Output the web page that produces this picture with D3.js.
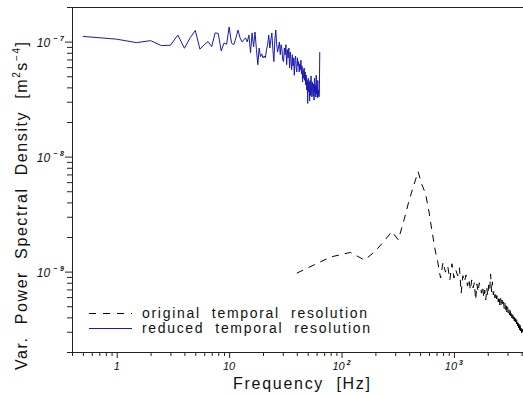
<!DOCTYPE html>
<html>
<head>
<meta charset="utf-8">
<script src="https://cdn.jsdelivr.net/npm/d3@7"></script>
<style>
html,body{margin:0;padding:0;background:#fff;}
svg{display:block;}
text{font-family:"Liberation Sans",Arial,sans-serif;fill:#111;}
</style>
</head>
<body>
<svg id="chart" width="523" height="396"></svg>
<script>
// ---- DATA ----
// reduced temporal resolution: frequency bins [Hz]
const freqReduced = [0.5,1,1.5,2,2.5,3,3.5,4,4.5,5,5.5,6,6.5,7,7.5,8,8.5,9,9.5,10,
10.5,11,11.5,12,12.5,13,13.5,14,14.5,15,15.5,16,16.5,17,17.5,18,18.5,19,19.5,20,
20.5,21,21.5,22,22.5,23,23.5,24,24.5,25,25.5,26,26.5,27,27.5,28,28.5,29,29.5,30,
30.5,31,31.5,32,32.5,33,33.5,34,34.5,35,35.5,36,36.5,37,37.5,38,38.5,39,39.5,40,
40.5,41,41.5,42,42.5,43,43.5,44,44.5,45,45.5,46,46.5,47,47.5,48,48.5,49,49.5,50,
50.5,51,51.5,52,52.5,53,53.5,54,54.5,55,55.5,56,56.5,57,57.5,58,58.5,59,59.5,60,
60.5,61,61.5,62,62.5,63,63.5,64];
// reduced temporal resolution: PSD [m^2 s^-4]
const psdReduced = [11.1e-8,10.5e-8,9.8e-8,10.2e-8,9.23e-8,9.3e-8,11.4e-8,8.76e-8,10.8e-8,12.5e-8,
8.6e-8,9.4e-8,10.0e-8,9.05e-8,11.9e-8,11.8e-8,8.3e-8,9.7e-8,9.5e-8,13.4e-8,
9.7e-8,9.4e-8,10.8e-8,12.6e-8,10.8e-8,9.94e-8,10.35e-8,10.8e-8,9.94e-8,11.4e-8,
8.0e-8,11.9e-8,9.0e-8,12.1e-8,8.5e-8,6.3e-8,8.8e-8,7.4e-8,7.82e-8,7.22e-8,
7.5e-8,7.22e-8,8.5e-8,9.4e-8,11.4e-8,8.8e-8,10.35e-8,11.9e-8,8.5e-8,6.7e-8,
10.35e-8,12.6e-8,9.4e-8,8.1e-8,9.0e-8,9.94e-8,7.7e-8,9.4e-8,8.5e-8,6.9e-8,
6.7e-8,8.8e-8,7.7e-8,9.4e-8,6.3e-8,8.5e-8,7.22e-8,8.8e-8,5.9e-8,8.1e-8,
6.9e-8,5.7e-8,7.7e-8,6.15e-8,7.22e-8,5.1e-8,6.9e-8,7.5e-8,5.9e-8,5.45e-8,
7.22e-8,6.15e-8,6.7e-8,5.45e-8,6.4e-8,5.7e-8,6.9e-8,5.24e-8,6.15e-8,4.46e-8,
5.7e-8,4.8e-8,5.9e-8,4.6e-8,5.45e-8,4.2e-8,5.1e-8,3.8e-8,4.6e-8,2.9e-8,
4.8e-8,3.65e-8,4.46e-8,3.05e-8,4.6e-8,3.4e-8,5.03e-8,3.96e-8,3.3e-8,4.46e-8,
3.8e-8,3.37e-8,4.29e-8,3.1e-8,4.8e-8,3.65e-8,4.2e-8,3.3e-8,5.1e-8,3.51e-8,
3.96e-8,3.24e-8,4.6e-8,3.37e-8,3.8e-8,3.3e-8,3.65e-8,8.1e-8];

// original temporal resolution: frequency bins [Hz]
const freqOriginal = [40,80,120,160,200,240,280,320,360,400,440,480,520,560,600,640,680,720,
760,800,840,880,920,960,1000,1040,1080,1120,1160,1200,1240,1280,1320,1360,1400,1440,1480,1520,
1560,1600,1640,1680,1720,1760,1800,1840,1880,1920,1960,2000,2040,2080,2120,2160,2200,2240,2280,
2320,2360,2400,2440,2480,2520,2560,2600,2640,2680,2720,2760,2800,2840,2880,2920,2960,3000,3040,
3080,3120,3160,3200,3240,3280,3320,3360,3400,3440,3480,3520,3560,3600,3640,3680,3720,3760,3800,
3840,3880,3920,3960,4000,4040,4080,4120];
// original temporal resolution: PSD [m^2 s^-4]
const psdOriginal = [0.97e-9,1.34e-9,1.47e-9,1.26e-9,1.51e-9,1.85e-9,2.23e-9,1.89e-9,2.82e-9,4.2e-9,
5.67e-9,7.4e-9,5.67e-9,4.74e-9,3.3e-9,2.21e-9,1.545e-9,1.19e-9,
0.88e-9,1.21e-9,0.99e-9,1.12e-9,0.847e-9,1.17e-9,0.88e-9,1.03e-9,0.92e-9,1.08e-9,0.65e-9,0.92e-9,
0.814e-9,0.936e-9,0.75e-9,0.864e-9,0.69e-9,0.847e-9,0.722e-9,0.80e-9,0.567e-9,0.782e-9,0.666e-9,
0.80e-9,0.722e-9,0.65e-9,0.75e-9,0.59e-9,0.69e-9,0.567e-9,0.722e-9,0.615e-9,0.766e-9,0.69e-9,
0.955e-9,0.666e-9,0.814e-9,0.627e-9,0.69e-9,0.59e-9,0.666e-9,0.579e-9,0.64e-9,0.545e-9,0.615e-9,
0.513e-9,0.59e-9,0.493e-9,0.567e-9,0.503e-9,0.545e-9,0.474e-9,0.534e-9,0.464e-9,0.513e-9,0.446e-9,
0.503e-9,0.437e-9,0.483e-9,0.42e-9,0.474e-9,0.412e-9,0.455e-9,0.396e-9,0.446e-9,0.388e-9,0.429e-9,
0.373e-9,0.42e-9,0.365e-9,0.404e-9,0.351e-9,0.396e-9,0.337e-9,0.38e-9,0.324e-9,0.365e-9,0.311e-9,
0.351e-9,0.305e-9,0.337e-9,0.293e-9,0.33e-9,0.299e-9,0.318e-9];

// tick labels
const xMajorTicks = [1,10,100,1000];
const xTickLabels = [["1",""],["10",""],["10","2"],["10","3"]];
const yMajorTicks = [1e-9,1e-8,1e-7];
const yTickLabels = [["10","\u2212\u2009\u20099"],["10","\u2212\u2009\u20098"],["10","\u2212\u2009\u20097"]];

const legendLabels = ["original  temporal  resolution","reduced  temporal  resolution"];
const xTitle = "Frequency  [Hz]";

// ---- DRAW ----
const svg = d3.select("#chart");
const L = 72, R = 524, T = 7, B = 352;
const x = d3.scaleLog().domain([0.4, 4200]).range([L, R]);
const y = d3.scaleLog().domain([2e-10, 2e-7]).range([B, T]);

const axisColor = "#222";

// minor tick values
function minors(dom){
  const out=[];
  for(let e=-11;e<=4;e++){
    for(let m=2;m<=9;m++){
      const v=m*Math.pow(10,e);
      if(v>=dom[0]*0.999 && v<=dom[1]*1.001) out.push(v);
    }
  }
  return out;
}

svg.append("defs").append("clipPath").attr("id","clip")
  .append("rect").attr("x",L).attr("y",T).attr("width",R-L).attr("height",B-T);

// x axis
const gx = svg.append("g").attr("transform",`translate(0,${B})`);
gx.append("g").call(d3.axisBottom(x).tickValues(minors(x.domain())).tickSize(4).tickFormat("").tickSizeOuter(0));
gx.append("g").call(d3.axisBottom(x).tickValues(xMajorTicks).tickSize(6).tickFormat("").tickSizeOuter(0));
gx.selectAll("path").attr("stroke",axisColor);
gx.selectAll("line").attr("stroke",axisColor);

// y axis
const gy = svg.append("g").attr("transform",`translate(${L},0)`);
gy.append("g").call(d3.axisLeft(y).tickValues(minors(y.domain())).tickSize(5).tickFormat("").tickSizeOuter(0));
gy.append("g").call(d3.axisLeft(y).tickValues(yMajorTicks).tickSize(7).tickFormat("").tickSizeOuter(0));
gy.selectAll("path").attr("stroke",axisColor);
gy.selectAll("line").attr("stroke",axisColor);

// top frame line
svg.append("line").attr("x1",L).attr("x2",R).attr("y1",T+0.5).attr("y2",T+0.5)
  .attr("stroke",axisColor).attr("stroke-width",1);

// x tick labels
xMajorTicks.forEach((v,i)=>{
  const t = svg.append("text").attr("x",x(v)).attr("y",370)
    .attr("text-anchor","middle").style("font-size","11px").style("font-style","italic");
  t.append("tspan").text(xTickLabels[i][0]);
  if(xTickLabels[i][1]){
    t.append("tspan").attr("dx",2).attr("dy",-5).style("font-size","7px").style("font-weight","bold").text(xTickLabels[i][1]);
  }
});

// y tick labels
yMajorTicks.forEach((v,i)=>{
  const t = svg.append("text").attr("x",64).attr("y",y(v)+5)
    .attr("text-anchor","end").style("font-size","12px").style("font-style","italic");
  t.append("tspan").text(yTickLabels[i][0]);
  t.append("tspan").attr("dx",3).attr("dy",-6).style("font-size","7px").style("font-weight","bold").text(yTickLabels[i][1]);
});

// lines
const lineGen = d3.line().x(d=>x(d[0])).y(d=>y(d[1]));
const plot = svg.append("g").attr("clip-path","url(#clip)");
plot.append("path")
  .datum(freqOriginal.map((f,i)=>[f,psdOriginal[i]]))
  .attr("d",lineGen).attr("fill","none").attr("stroke","#000")
  .attr("stroke-width",1).attr("stroke-dasharray","7,6");
plot.append("path")
  .datum(freqReduced.map((f,i)=>[f,psdReduced[i]]))
  .attr("d",lineGen).attr("fill","none").attr("stroke","#1a1ab0")
  .attr("stroke-width",1);

// legend
const leg = svg.append("g");
leg.append("line").attr("x1",89).attr("x2",132).attr("y1",313.5).attr("y2",313.5)
  .attr("stroke","#000").attr("stroke-dasharray","7,7");
leg.append("line").attr("x1",89).attr("x2",132).attr("y1",328.5).attr("y2",328.5)
  .attr("stroke","#1a1ab0");
leg.append("text").attr("x",142).attr("y",318).style("font-size","14px")
  .attr("textLength",225).attr("lengthAdjust","spacing").style("white-space","pre").text(legendLabels[0]);
leg.append("text").attr("x",142).attr("y",333).style("font-size","14px")
  .attr("textLength",228).attr("lengthAdjust","spacing").style("white-space","pre").text(legendLabels[1]);

// x title
svg.append("text").attr("x",233).attr("y",389).style("font-size","16px")
  .attr("textLength",137).attr("lengthAdjust","spacing").style("white-space","pre").text(xTitle);

// y title
const yt = svg.append("text").attr("transform","translate(27,370) rotate(-90)")
  .attr("x",0).attr("y",0).style("font-size","16px").style("white-space","pre")
  .attr("textLength",328).attr("lengthAdjust","spacing");
yt.append("tspan").text("Var.  Power  Spectral  Density  [m");
yt.append("tspan").attr("dy",-7).style("font-size","10px").text("2");
yt.append("tspan").attr("dy",7).text("s");
yt.append("tspan").attr("dy",-7).style("font-size","10px").text("\u22124");
yt.append("tspan").attr("dy",7).text("]");
</script>
</body>
</html>
